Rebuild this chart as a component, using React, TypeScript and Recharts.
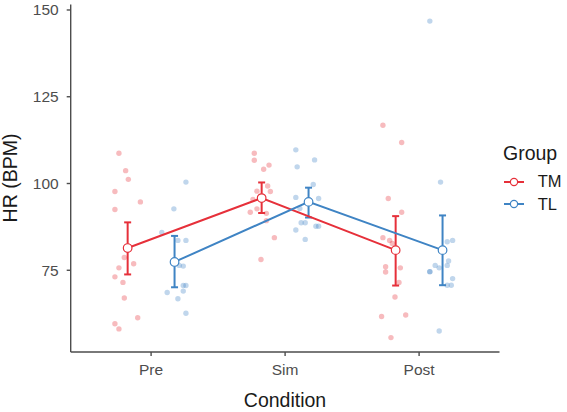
import { ScatterChart, Scatter, XAxis, YAxis, ErrorBar } from "recharts";

const conditions = ["Pre", "Sim", "Post"];
const groups = ["TM", "TL"];
const groupColors = ["#E6303A", "#3F84C4"];
const dodge = [-0.175, 0.175];
const yTicks = [75, 100, 125, 150];

// group means with lower / upper interval limits, per condition
const tmMean = [81.4, 95.8, 80.8];
const tmLower = [73.8, 91.5, 70.6];
const tmUpper = [88.8, 100.3, 90.6];
const tlMean = [77.4, 94.7, 80.8];
const tlLower = [70.1, 90.2, 70.7];
const tlUpper = [84.9, 98.8, 90.8];

// individual HR readings: [horizontal jitter, bpm]
const tmPre = [
  [-0.24, 108.7], [-0.19, 103.7], [-0.17, 101.2], [-0.27, 97.7], [-0.08, 94.7],
  [-0.27, 92.5], [-0.2, 78.7], [-0.24, 75.7], [-0.13, 76.9], [-0.27, 73.1],
  [-0.21, 71.5], [-0.2, 67.0], [-0.1, 61.3], [-0.27, 59.6], [-0.24, 58.1],
];
const tmSim = [
  [-0.23, 108.7], [-0.23, 106.7], [-0.12, 105.3], [-0.16, 104.1], [-0.13, 99.3],
  [-0.21, 97.8], [-0.11, 97.7], [-0.24, 95.4], [-0.21, 92.7], [-0.26, 91.7],
  [-0.14, 91.4], [-0.14, 89.3], [-0.08, 84.4], [-0.18, 78.1],
];
const tmPost = [
  [-0.27, 116.8], [-0.13, 111.8], [-0.23, 95.7], [-0.13, 91.7], [-0.27, 84.4],
  [-0.22, 83.6], [-0.2, 82.7], [-0.25, 76.0], [-0.25, 74.5], [-0.14, 75.7],
  [-0.15, 71.5], [-0.18, 67.3], [-0.28, 61.7], [-0.1, 62.1], [-0.21, 55.6],
];
const tlPre = [
  [0.26, 100.4], [0.17, 92.7], [0.08, 85.9], [0.2, 83.6], [0.26, 83.6],
  [0.21, 76.4], [0.24, 76.2], [0.24, 70.6], [0.26, 70.6], [0.24, 69.0],
  [0.12, 68.6], [0.2, 66.8], [0.26, 62.6],
];
const tlSim = [
  [0.08, 109.7], [0.22, 106.8], [0.09, 104.8], [0.21, 99.7], [0.08, 96.0],
  [0.25, 95.7], [0.11, 92.8], [0.12, 88.7], [0.15, 88.7], [0.23, 87.7],
  [0.25, 87.7], [0.08, 86.6], [0.15, 83.9],
];
const tlPost = [
  [0.08, 146.8], [0.16, 100.4], [0.21, 83.2], [0.25, 83.6], [0.22, 77.7],
  [0.12, 76.4], [0.15, 75.7], [0.21, 76.4], [0.08, 74.6], [0.08, 74.6],
  [0.25, 72.6], [0.21, 70.7], [0.24, 70.7], [0.15, 57.5],
];

const FONT = '"Liberation Sans", Arial, sans-serif';
const TICK_SIZE = 15.5;

const toPoints = (cond: number, pts: number[][]) =>
  pts.map(([dx, hr]) => ({ x: cond + 1 + dx, y: hr }));

const rawData = [
  [...toPoints(0, tmPre), ...toPoints(1, tmSim), ...toPoints(2, tmPost)],
  [...toPoints(0, tlPre), ...toPoints(1, tlSim), ...toPoints(2, tlPost)],
];

const summary = (g: number, mean: number[], lower: number[], upper: number[]) =>
  conditions.map((_, i) => ({
    x: i + 1 + dodge[g],
    y: mean[i],
    err: [mean[i] - lower[i], upper[i] - mean[i]],
  }));

const meanData = [
  summary(0, tmMean, tmLower, tmUpper),
  summary(1, tlMean, tlLower, tlUpper),
];

const Dot = (color: string) => (p: any) => (
  <circle cx={p.cx} cy={p.cy} r={2.7} fill={color} fillOpacity={0.33} />
);

const MeanDot = (color: string) => (p: any) => (
  <circle cx={p.cx} cy={p.cy} r={4.3} fill="#fff" stroke={color} strokeWidth={1.2} />
);

const XTick = (p: any) => (
  <text x={p.x} y={p.y} dy={11} textAnchor="middle" fontSize={TICK_SIZE} fill="#4d4d4d" fontFamily={FONT}>
    {conditions[p.payload.value - 1]}
  </text>
);

const YTick = (p: any) => (
  <text x={p.x} y={p.y} dy={5.5} textAnchor="end" fontSize={TICK_SIZE} fill="#4d4d4d" fontFamily={FONT}>
    {p.payload.value}
  </text>
);

export default function App() {
  return (
    <div style={{ position: "absolute", left: 0, top: 0, width: 567, height: 412, fontFamily: FONT, background: "#fff" }}>
      <ScatterChart
        width={567}
        height={412}
        margin={{ top: 4.6, right: 67.5, bottom: 0, left: 0 }}
        style={{ fontFamily: FONT }}
      >
        <XAxis
          type="number"
          dataKey="x"
          domain={[0.4, 3.6]}
          ticks={[1, 2, 3]}
          allowDataOverflow
          height={60}
          stroke="#4d4d4d"
          strokeWidth={1.4}
          tickSize={4}
          tickMargin={8}
          tick={XTick}
          label={{
            content: () => (
              <text x={285} y={407} textAnchor="middle" fontSize={19.5} fill="#1a1a1a">
                Condition
              </text>
            ),
          }}
        />
        <YAxis
          type="number"
          dataKey="y"
          domain={[51.45, 151.55]}
          ticks={yTicks}
          allowDataOverflow
          width={70.7}
          stroke="#4d4d4d"
          strokeWidth={1.4}
          tickSize={4}
          tickMargin={8}
          tick={YTick}
          label={{
            content: () => (
              <text transform="translate(17,178) rotate(-90)" textAnchor="middle" fontSize={19.5} fill="#1a1a1a">
                HR (BPM)
              </text>
            ),
          }}
        />
        {groups.map((g, i) => (
          <Scatter
            key={`raw-${g}`}
            name={`${g} raw`}
            data={rawData[i]}
            shape={Dot(groupColors[i])}
            isAnimationActive={false}
          />
        ))}
        {groups.map((g, i) => (
          <Scatter
            key={`mean-${g}`}
            name={g}
            data={meanData[i]}
            stroke={groupColors[i]}
            line={{ stroke: groupColors[i], strokeWidth: 2 }}
            shape={MeanDot(groupColors[i])}
            isAnimationActive={false}
          >
            <ErrorBar dataKey="err" direction="y" width={3.5} stroke={groupColors[i]} strokeWidth={2} isAnimationActive={false} />
          </Scatter>
        ))}
      </ScatterChart>
      <div style={{ position: "absolute", left: 503, top: 141, fontSize: 19.5, lineHeight: "24px", color: "#1a1a1a" }}>
        Group
      </div>
      {groups.map((g, i) => (
        <div
          key={g}
          style={{ position: "absolute", left: 503, top: 171.7 + i * 22.5, height: 20, display: "flex", alignItems: "center" }}
        >
          <svg width={22} height={20}>
            <line x1={1} y1={10} x2={21} y2={10} stroke={groupColors[i]} strokeWidth={2} />
            <circle cx={11} cy={10} r={3.6} fill="#fff" stroke={groupColors[i]} strokeWidth={1.2} />
          </svg>
          <span style={{ marginLeft: 12.7, fontSize: 16.5, color: "#1a1a1a" }}>{g}</span>
        </div>
      ))}
    </div>
  );
}
